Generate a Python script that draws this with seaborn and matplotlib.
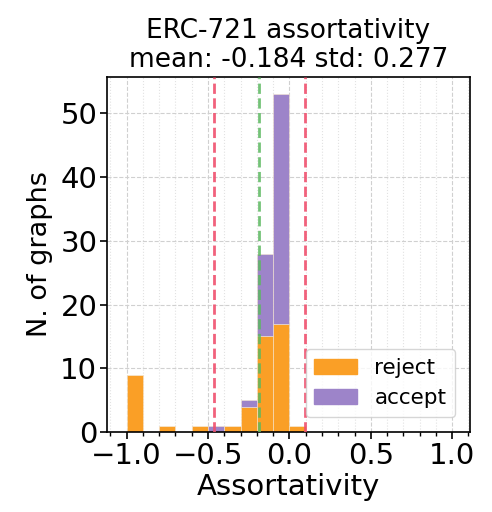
import numpy as np
import pandas as pd
import matplotlib
matplotlib.use("Agg")
import matplotlib.pyplot as plt
import seaborn as sns
from matplotlib.patches import Patch
from matplotlib.ticker import MultipleLocator

# bin left edges (width 0.1) and counts per class
bin_left = [-1.0, -0.9, -0.8, -0.7, -0.6, -0.5, -0.4, -0.3, -0.2, -0.1, 0.0]
reject = [9, 0, 1, 0, 1, 0, 1, 4, 15, 17, 1]
accept = [0, 0, 0, 0, 0, 1, 0, 1, 13, 36, 0]
mean_val = -0.184
std_val = 0.277
title = "ERC-721 assortativity\nmean: -0.184 std: 0.277"

c_reject = "#FA9F26"
c_accept = "#9D84C9"

rows = []
for b, r, a in zip(bin_left, reject, accept):
    rows.append({"x": b + 0.05, "w": float(r), "label": "reject"})
    rows.append({"x": b + 0.05, "w": float(a), "label": "accept"})
df = pd.DataFrame(rows)

plt.rcParams['font.family'] = ['DejaVu Sans']
fig = plt.figure(figsize=(4.92, 5.12), dpi=100)
ax = fig.add_axes([0.2175, 0.156, 0.738, 0.694])

sns.histplot(data=df, x="x", weights="w", hue="label", hue_order=["accept", "reject"],
             multiple="stack", binwidth=0.1, binrange=(-1.0, 0.1),
             palette={"reject": c_reject, "accept": c_accept},
             alpha=1.0, edgecolor="#f5e6d0", linewidth=0.4, ax=ax, legend=False, zorder=2)

ax.axvline(mean_val, color="#5cb860", ls="--", lw=2, alpha=0.85, zorder=3)
ax.axvline(mean_val - std_val, color="#f0506e", ls="--", lw=2, alpha=0.9, zorder=3)
ax.axvline(mean_val + std_val, color="#f0506e", ls="--", lw=2, alpha=0.9, zorder=3)

ax.set_xlim(-1.12, 1.11)
ax.set_ylim(0, 55.7)
ax.xaxis.set_major_locator(MultipleLocator(0.5))
ax.xaxis.set_minor_locator(MultipleLocator(0.1))
ax.yaxis.set_major_locator(MultipleLocator(10))
ax.grid(which="major", ls="--", color="#d0d0d0", lw=0.8, zorder=0)
ax.grid(which="minor", axis="x", ls=":", color="#e2e2e2", lw=0.8, zorder=0)
ax.set_axisbelow(True)
ax.tick_params(axis="both", which="major", labelsize=21, length=5, width=1.2, pad=2)
ax.tick_params(axis="x", which="minor", length=3, width=1)
for s in ax.spines.values():
    s.set_linewidth(1.2)
ax.set_xticks([-1.0, -0.5, 0.0, 0.5, 1.0])
ax.set_xticklabels(["\u22121.0", "\u22120.5", "0.0", "0.5", "1.0"])

ax.set_xlabel("Assortativity", fontsize=21, labelpad=2)
ax.set_ylabel("N. of graphs", fontsize=19.5, labelpad=5)
ax.set_title(title, fontsize=19, pad=7, linespacing=1.15)

handles = [Patch(color=c_reject, label="reject"), Patch(color=c_accept, label="accept")]
ax.legend(handles=handles, loc="lower right", fontsize=15.5, handlelength=2.0,
          bbox_to_anchor=(1.0, 0.0), borderaxespad=0.7)

fig.savefig("out.png", dpi=100)
